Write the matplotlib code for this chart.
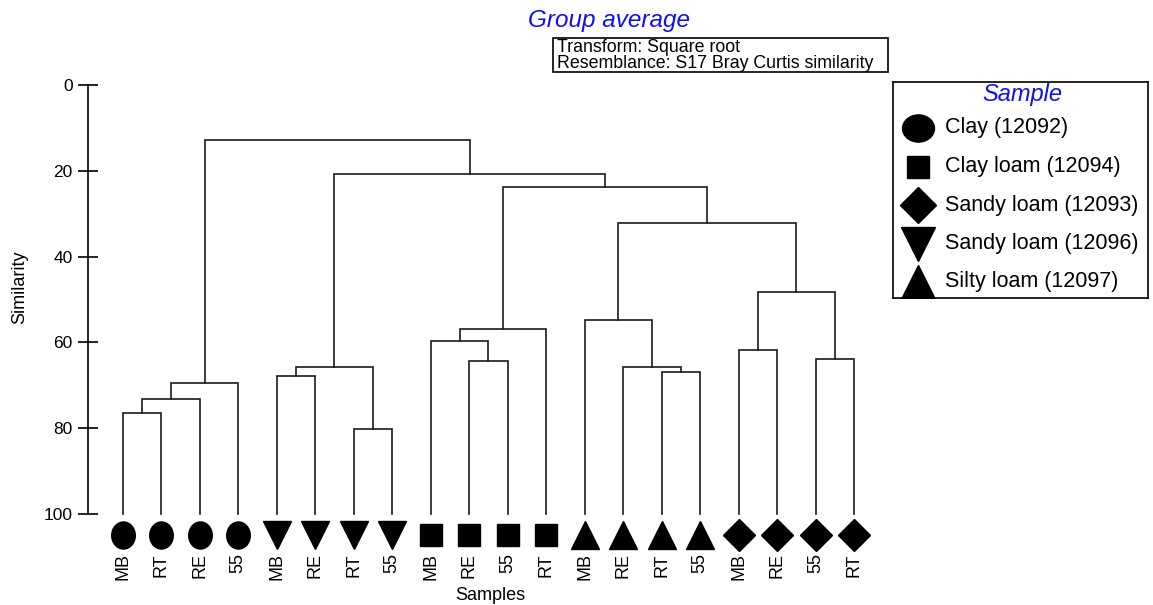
import numpy as np
import matplotlib.pyplot as plt
from matplotlib.path import Path
from matplotlib.patches import Rectangle

plt.rcParams['font.family'] = ['Liberation Sans', 'DejaVu Sans']

# leaf order along the x axis
leaf_labels = ['MB', 'RT', 'RE', '55',
               'MB', 'RE', 'RT', '55',
               'MB', 'RE', '55', 'RT',
               'MB', 'RE', 'RT', '55',
               'MB', 'RE', '55', 'RT']
leaf_group = [0, 0, 0, 0, 3, 3, 3, 3, 1, 1, 1, 1, 4, 4, 4, 4, 2, 2, 2, 2]

group_names = ['Clay (12092)', 'Clay loam (12094)', 'Sandy loam (12093)',
               'Sandy loam (12096)', 'Silty loam (12097)']

# merges: (left node, right node, similarity); new nodes numbered from 20
merge_left = [0, 20, 21, 4, 6, 23, 9, 8, 27, 14, 13, 12, 16, 18, 32, 31, 28, 25, 22]
merge_right = [1, 2, 3, 5, 7, 24, 10, 26, 11, 15, 29, 30, 17, 19, 33, 34, 35, 36, 37]
merge_sim = [76.4, 73.2, 69.4, 67.8, 80.3, 65.8, 64.3, 59.6, 56.9, 66.8,
             65.7, 54.8, 61.8, 63.9, 48.2, 32.2, 23.7, 20.7, 12.7]

circ = Path.unit_circle()
marker_style = [
    dict(marker=Path(circ.vertices * [0.87, 1.0], circ.codes), ms=19.5),
    dict(marker='s', ms=16),
    dict(marker='D', ms=16),
    dict(marker='v', ms=20),
    dict(marker='^', ms=20),
]

fig = plt.figure(figsize=(11.53, 6.05), dpi=100)
ax = fig.add_axes([88 / 1153, 1 - 513.8 / 605, 792 / 1153, 428.5 / 605])

n = len(leaf_labels)
xs = list(range(n))
ys = [100.0] * n
for l, r, s in zip(merge_left, merge_right, merge_sim):
    x1, y1, x2, y2 = xs[l], ys[l], xs[r], ys[r]
    ax.plot([x1, x1, x2, x2], [y1, s, s, y2], color='#1a1a1a', lw=1.2,
            solid_joinstyle='miter', clip_on=False)
    xs.append((x1 + x2) / 2)
    ys.append(s)

ax.set_xlim((88 - 122.7) / 38.5, (880 - 122.7) / 38.5)
ax.set_ylim(100, 0)

# sample symbols and names under each leaf
for i in range(n):
    g = leaf_group[i]
    ax.plot(i, 104.9, color='black', clip_on=False, ls='none', **marker_style[g])
    ax.text(i, 109.2, leaf_labels[i], rotation=90, ha='center', va='top',
            fontsize=13)

for s in ['top', 'right', 'bottom']:
    ax.spines[s].set_visible(False)
ax.spines['left'].set_linewidth(1.2)
ax.set_xticks([])
ax.set_yticks([0, 20, 40, 60, 80, 100])
ax.tick_params(axis='y', direction='inout', length=14, width=1.2, labelsize=12.5,
               pad=4)
fig.text(20 / 1153, 1 - 287 / 605, 'Similarity', rotation=90, ha='center',
         va='center', fontsize=13)
fig.text(490 / 1153, 1 - 596 / 605, 'Samples', ha='center', va='center',
         fontsize=13)

fig.text(609 / 1153, 1 - 20 / 605, 'Group average', ha='center', va='center',
         fontsize=17.5, style='italic', color='#1010ee')

# transform / resemblance box
fig.patches.append(Rectangle((553 / 1153, 1 - 72 / 605), 335 / 1153, 34 / 605,
                             transform=fig.transFigure, fill=False,
                             edgecolor='black', lw=1.2))
fig.text(557 / 1153, 1 - 47.5 / 605, 'Transform: Square root', ha='left',
         va='center', fontsize=12.8)
fig.text(557 / 1153, 1 - 63.5 / 605, 'Resemblance: S17 Bray Curtis similarity',
         ha='left', va='center', fontsize=12.8)

# legend
lax = fig.add_axes([893 / 1153, 1 - 298 / 605, 255 / 1153, 216 / 605])
lax.set_xlim(0, 255)
lax.set_ylim(216, 0)
lax.set_xticks([])
lax.set_yticks([])
for sp in lax.spines.values():
    sp.set_linewidth(1.2)
lax.text(129, 13, 'Sample', ha='center', va='center', fontsize=17,
         style='italic', color='#1010ee')
legend_style = [
    dict(marker=Path(circ.vertices * [1.0, 0.85], circ.codes), ms=23),
    dict(marker='s', ms=16),
    dict(marker='D', ms=18),
    dict(marker='v', ms=24),
    dict(marker='^', ms=24),
]
for k, name in enumerate(group_names):
    yk = 46 + 38.5 * k
    lax.plot(25, yk, color='black', ls='none', **legend_style[k])
    lax.text(52, yk, name, ha='left', va='center', fontsize=15.5)

fig.savefig('out.png', dpi=100)
